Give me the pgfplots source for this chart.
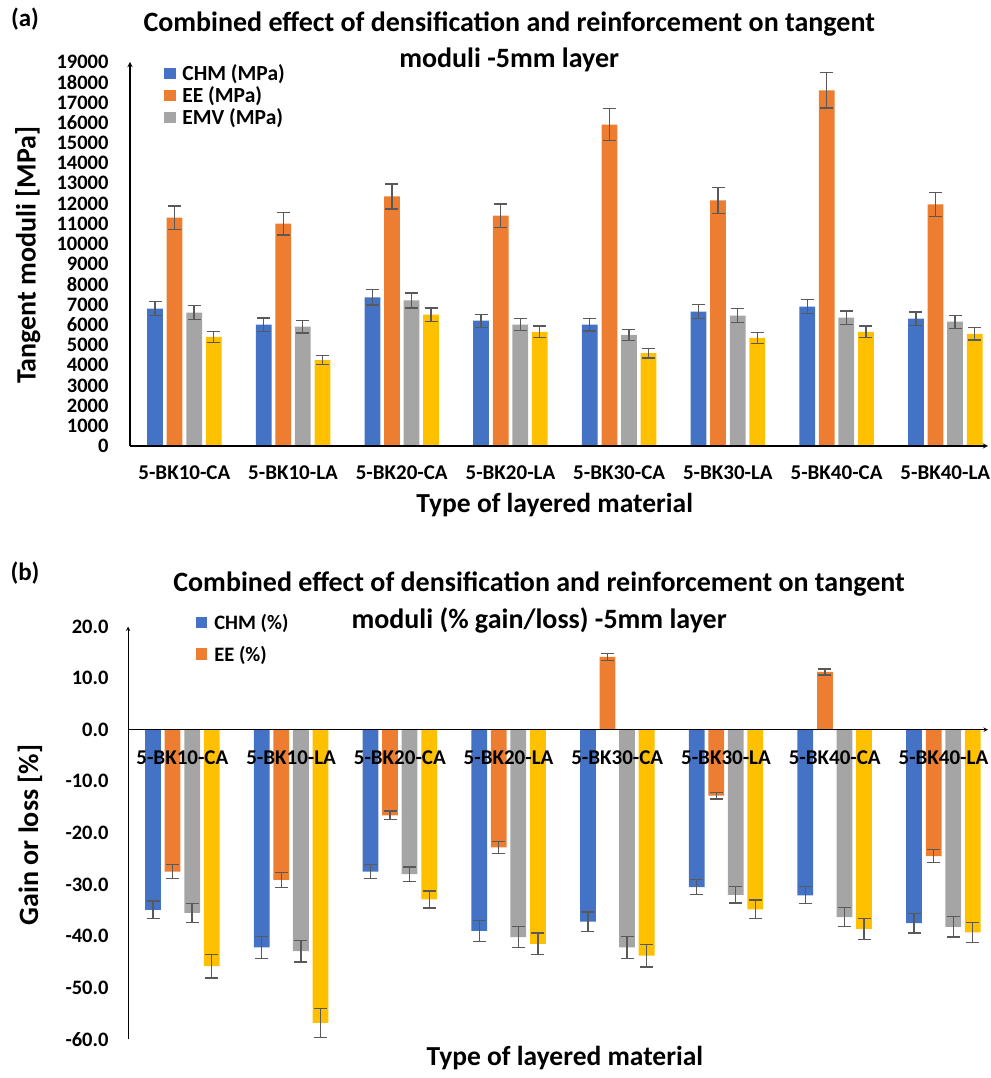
\documentclass[border=0pt]{standalone}
\usepackage{fontspec}
\setmainfont{Carlito}
\usepackage{pgfplots}
\usepackage{pgfplotstable}
\pgfplotsset{compat=1.18}
\definecolor{cblue}{HTML}{4472C4}
\definecolor{corange}{HTML}{ED7D31}
\definecolor{cgray}{HTML}{A5A5A5}
\definecolor{cyellow}{HTML}{FFC000}
\definecolor{errgray}{HTML}{595959}

\pgfplotstableread{
x chm chme ee eee emv emve yel yele
0 6800 350 11300 580 6600 350 5400 270
1 6000 330 11000 560 5900 310 4250 230
2 7350 380 12350 620 7200 370 6500 330
3 6200 320 11400 580 6000 300 5650 290
4 6000 310 15900 790 5500 270 4600 240
5 6650 350 12150 630 6450 340 5350 270
6 6900 360 17600 880 6350 330 5650 280
7 6300 330 11950 600 6150 320 5550 300
}\dataA

\pgfplotstableread{
x chm chme ee eee emv emve yel yele
0 -34.9 1.7 -27.5 1.4 -35.5 1.8 -45.8 2.3
1 -42.2 2.1 -29.1 1.45 -42.9 2.1 -56.8 2.8
2 -27.5 1.4 -16.6 0.85 -28.0 1.4 -32.9 1.65
3 -39.0 2.0 -22.8 1.2 -40.2 2.0 -41.5 2.1
4 -37.2 1.85 14.1 0.7 -42.2 2.1 -43.8 2.2
5 -30.5 1.5 -12.8 0.65 -32.0 1.6 -34.8 1.8
6 -32.1 1.65 11.2 0.58 -36.3 1.9 -38.6 2.0
7 -37.5 1.9 -24.5 1.25 -38.2 2.0 -39.3 2.0
}\dataB

\pgfplotsset{
  mybars/.style={
    ybar,
    bar width=0.145,
    scale only axis,
    axis on top,
    xtick={0,...,7},
    xticklabels={5-BK10-CA,5-BK10-LA,5-BK20-CA,5-BK20-LA,5-BK30-CA,5-BK30-LA,5-BK40-CA,5-BK40-LA},
    major tick length=0pt,
    axis line style={-, line width=1.3pt, black},
    tick label style={font=\fontsize{20.5}{22}\selectfont\bfseries},
    xticklabel style={font=\fontsize{21}{22}\selectfont\bfseries},
    /pgf/number format/assume math mode=true,
    legend cell align=left,
    legend image code/.code={\fill[##1] (0pt,-5.8pt) rectangle (11.7pt,5.8pt);},
    error bars/error bar style={line width=1.3pt, color=errgray},
    error bars/error mark options={rotate=90, mark size=6.5pt, line width=1.3pt, color=errgray},
  },
}

\begin{document}
\begin{tikzpicture}
\path[use as bounding box] (0pt,0pt) rectangle (990pt,1078pt);

\node[font=\fontsize{25}{27}\selectfont\bfseries] at (25pt,1059pt) {(a)};
\node[font=\fontsize{25}{27}\selectfont\bfseries] at (25pt,505pt) {(b)};

% Panel (a)
\begin{axis}[mybars,
  at={(130pt,632pt)}, anchor=south west,
  width=858pt, height=384pt,
  xmin=-0.5, xmax=7.393,
  ymin=0, ymax=19000,
  ytick={0,1000,...,19000},
  scaled y ticks=false,
  yticklabel style={/pgf/number format/1000 sep={}, xshift=-18pt},
  axis x line=bottom, axis y line=left,
  xticklabel style={yshift=-16pt},
  title={Combined effect of densification and reinforcement on tangent\\moduli -5mm layer},
  every axis title/.style={at={(axis description cs:0.442,1.053)}, anchor=center,
    font=\fontsize{28}{36}\selectfont\bfseries, align=center},
  xlabel={Type of layered material},
  every axis x label/.style={at={(axis description cs:0.495,-0.154)}, anchor=center,
    font=\fontsize{27.5}{30}\selectfont\bfseries},
  ylabel={Tangent moduli [MPa]},
  every axis y label/.style={at={(axis description cs:-0.119,0.497)}, anchor=center, rotate=90,
    font=\fontsize{28}{30}\selectfont\bfseries},
  legend style={at={(axis description cs:0.036,1.0)}, anchor=north west, draw=none, fill=none,
    font=\fontsize{21.5}{23}\selectfont\bfseries, nodes={inner sep=0.6pt}, row sep=3.3pt,
    /tikz/every odd column/.style={column sep=6pt}},
]
\addplot[fill=cblue, draw=none, bar shift=-0.27, error bars/.cd, y dir=both, y explicit]
  table[x=x, y=chm, y error=chme]{\dataA};
\addlegendentry{CHM (MPa)}
\addplot[fill=corange, draw=none, bar shift=-0.09, error bars/.cd, y dir=both, y explicit]
  table[x=x, y=ee, y error=eee]{\dataA};
\addlegendentry{EE (MPa)}
\addplot[fill=cgray, draw=none, bar shift=0.09, error bars/.cd, y dir=both, y explicit]
  table[x=x, y=emv, y error=emve]{\dataA};
\addlegendentry{EMV (MPa)}
\addplot[fill=cyellow, draw=none, bar shift=0.27, forget plot, error bars/.cd, y dir=both, y explicit]
  table[x=x, y=yel, y error=yele]{\dataA};
\end{axis}

% Panel (b)
\begin{axis}[mybars,
  at={(128pt,38.7pt)}, anchor=south west,
  width=860pt, height=412.8pt,
  xmin=-0.5, xmax=7.41,
  ymin=-60, ymax=20,
  ytick={-60,-50,...,20},
  yticklabels={-60.0,-50.0,-40.0,-30.0,-20.0,-10.0,0.0,10.0,20.0},
  yticklabel style={xshift=-16pt},
  axis x line=middle, axis y line=left,
  axis line style={line width=1pt},
  xticklabel style={anchor=center, yshift=-28pt},
  title={Combined effect of densification and reinforcement on tangent\\moduli (\% gain/loss) -5mm layer},
  every axis title/.style={at={(axis description cs:0.478,1.058)}, anchor=center,
    font=\fontsize{28}{37}\selectfont\bfseries, align=center},
  xlabel={Type of layered material},
  every axis x label/.style={at={(axis description cs:0.508,-0.045)}, anchor=center,
    font=\fontsize{27.5}{30}\selectfont\bfseries},
  ylabel={Gain or loss [\%]},
  every axis y label/.style={at={(axis description cs:-0.114,0.495)}, anchor=center, rotate=90,
    font=\fontsize{28}{30}\selectfont\bfseries},
  legend style={at={(axis description cs:0.075,1.045)}, anchor=north west, draw=none, fill=none,
    font=\fontsize{20.5}{22}\selectfont\bfseries, nodes={inner sep=4pt}, row sep=7pt,
    /tikz/every odd column/.style={column sep=3pt}},
]
\addplot[fill=cblue, draw=none, bar shift=-0.27, error bars/.cd, y dir=both, y explicit]
  table[x=x, y=chm, y error=chme]{\dataB};
\addlegendentry{CHM (\%)}
\addplot[fill=corange, draw=none, bar shift=-0.09, error bars/.cd, y dir=both, y explicit]
  table[x=x, y=ee, y error=eee]{\dataB};
\addlegendentry{EE (\%)}
\addplot[fill=cgray, draw=none, bar shift=0.09, forget plot, error bars/.cd, y dir=both, y explicit]
  table[x=x, y=emv, y error=emve]{\dataB};
\addplot[fill=cyellow, draw=none, bar shift=0.27, forget plot, error bars/.cd, y dir=both, y explicit]
  table[x=x, y=yel, y error=yele]{\dataB};
\end{axis}
\end{tikzpicture}
\end{document}
